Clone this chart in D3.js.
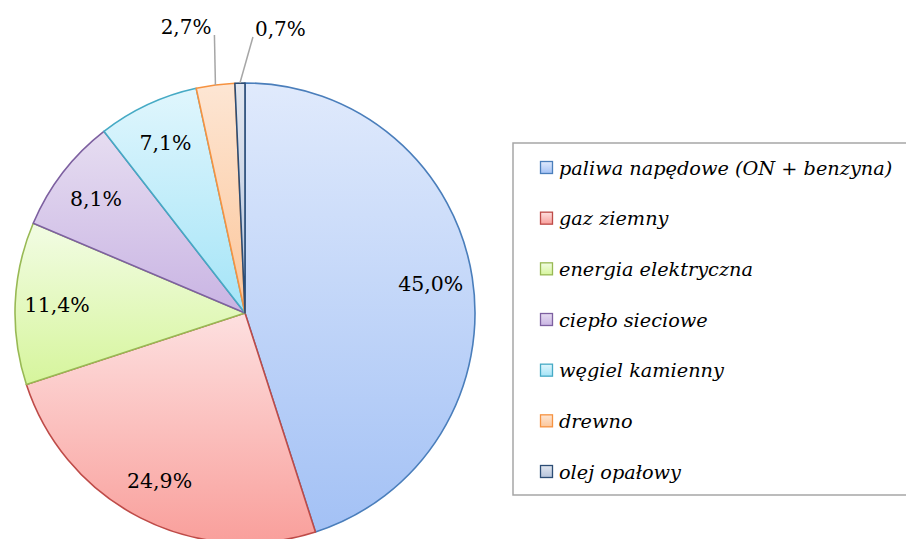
<!DOCTYPE html>
<html><head><meta charset="utf-8">
<script src="https://cdn.jsdelivr.net/npm/d3@7"></script>
<style>
html,body{margin:0;padding:0;background:#fff;}
svg{display:block;}
</style>
</head><body>
<svg id="chart" width="906" height="539"></svg>
<script>
const categories = ["paliwa napędowe (ON + benzyna)","gaz ziemny","energia elektryczna","ciepło sieciowe","węgiel kamienny","drewno","olej opałowy"];
const values = [45.0, 24.9, 11.4, 8.1, 7.1, 2.7, 0.7];
const labels = ["45,0%","24,9%","11,4%","8,1%","7,1%","2,7%","0,7%"];
const strokeColors = ["#4a7ebb","#be4b48","#98b954","#7d60a0","#46aac5","#f69240","#2c4d75"];
const gradTop = ["#e0eafc","#fde0e0","#f2fce4","#e6ddf1","#e0f6fd","#fde6d4","#e2e7f0"];
const gradBottom = ["#a3c1f5","#f99f9b","#d6f59c","#c9b4e3","#a4e4f7","#fcc69a","#b5c3da"];

const svg = d3.select("#chart");
const defs = svg.append("defs");
categories.forEach((c,i)=>{
  const g = defs.append("linearGradient").attr("id","g"+i).attr("x1",0).attr("y1",0).attr("x2",0).attr("y2",1);
  g.append("stop").attr("offset","0%").attr("stop-color",gradTop[i]);
  g.append("stop").attr("offset","100%").attr("stop-color",gradBottom[i]);
});

const cx = 245, cy = 313, R = 230;
const data = categories.map((c,i)=>({name:c,value:values[i],label:labels[i],i}));
const pieFull = d3.pie().value(d=>d.value).sort(null);
const arcsF = pieFull(data);
const arc = d3.arc().innerRadius(0).outerRadius(R);
const g = svg.append("g").attr("transform",`translate(${cx},${cy})`);
g.selectAll("path.slice").data(arcsF).enter().append("path")
  .attr("class","slice")
  .attr("d",arc)
  .attr("fill",d=>`url(#g${d.data.i})`)
  .attr("stroke",d=>strokeColors[d.data.i])
  .attr("stroke-width",1.6)
  .attr("stroke-linejoin","round");

const labelArc = d3.arc().innerRadius(188).outerRadius(188);
const fontFam = "'DejaVu Serif', serif";
arcsF.forEach(d=>{
  const mid = (d.startAngle+d.endAngle)/2;
  if (d.data.value > 5) {
    const [x,y] = labelArc.centroid(d);
    g.append("text").attr("x",x).attr("y",y).attr("dy","0.35em")
      .attr("text-anchor","middle").attr("font-family",fontFam).attr("font-size",20.5)
      .attr("fill","#000").text(d.data.label);
  } else {
    const sx = Math.sin(mid)*R, sy = -Math.cos(mid)*R;
    let ex, ey, tx, anchor;
    if (d.data.i === 5) { ex = sx - 1; ey = sy - 50; tx = ex - 3; anchor = "end"; }
    else { ex = sx + 13; ey = sy - 46; tx = ex + 2; anchor = "start"; }
    g.append("line").attr("x1",sx).attr("y1",sy).attr("x2",ex).attr("y2",ey)
      .attr("stroke","#a6a6a6").attr("stroke-width",1.5);
    g.append("text").attr("x",tx).attr("y",ey-8).attr("dy","0.35em")
      .attr("text-anchor",anchor).attr("font-family",fontFam).attr("font-size",20)
      .attr("fill","#000").text(d.data.label);
  }
});

// legend
const lg = svg.append("g");
lg.append("rect").attr("x",513).attr("y",143).attr("width",400).attr("height",352)
  .attr("fill","#fff").attr("stroke","#a6a6a6").attr("stroke-width",1.5);
const rowY = d3.scalePoint().domain(categories).range([168,472]);
categories.forEach((c,i)=>{
  const y = rowY(c);
  lg.append("rect").attr("x",540.5).attr("y",y-6.5).attr("width",12).attr("height",12)
    .attr("fill",`url(#g${i})`).attr("stroke",strokeColors[i]).attr("stroke-width",1.3);
  lg.append("text").attr("x",559).attr("y",y).attr("dy","0.35em")
    .attr("font-family",fontFam).attr("font-style","italic").attr("font-size",19.3)
    .attr("fill","#000").text(c);
});
</script>
</body></html>
